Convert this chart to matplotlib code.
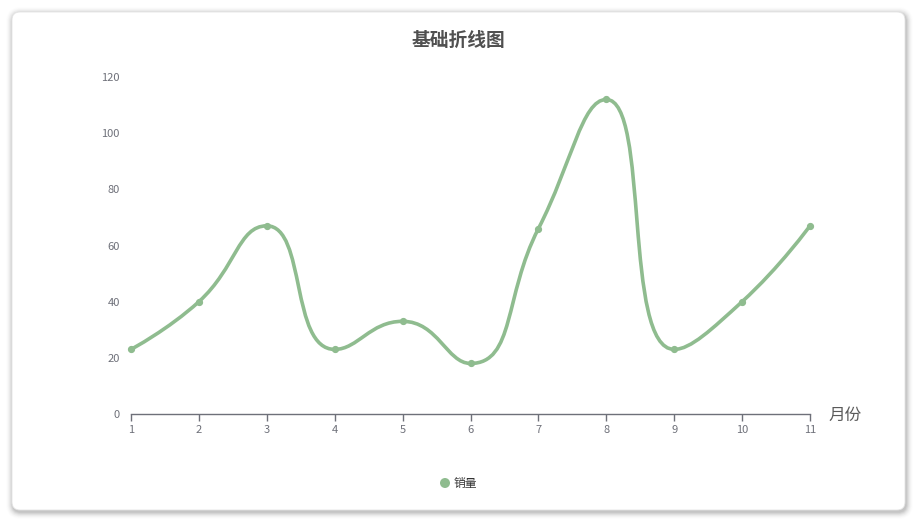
import matplotlib
matplotlib.use("Agg")
import matplotlib.pyplot as plt
from matplotlib.patches import FancyBboxPatch, Circle
from matplotlib.path import Path
from matplotlib.patches import PathPatch
import numpy as np

plt.rcParams['font.family'] = ['Noto Sans CJK SC', 'DejaVu Sans']

months = [1, 2, 3, 4, 5, 6, 7, 8, 9, 10, 11]
sales = [23, 40, 67, 23, 33, 18, 66, 112, 23, 40, 67]
y_ticks = [0, 20, 40, 60, 80, 100, 120]
title = "基础折线图"
x_name = "月份"
series_name = "销量"
color = "#8fbc8f"

W, H = 917, 523
fig = plt.figure(figsize=(W / 100, H / 100), dpi=100)
fig.patch.set_facecolor("white")

# card with shadow
bg = fig.add_axes([0, 0, 1, 1])
bg.set_xlim(0, W)
bg.set_ylim(H, 0)
bg.axis("off")
cx0, cy0, cx1, cy1 = 12, 12, 905, 510
for i in range(12, 0, -1):
    a = 0.04 * (1 - i / 13)
    bg.add_patch(FancyBboxPatch((cx0 - i * 0.6 + 1, cy0 - i * 0.6 + 2),
                                (cx1 - cx0) + i * 1.2, (cy1 - cy0) + i * 1.2,
                                boxstyle=f"round,pad=0,rounding_size={8 + i * 0.6}",
                                fc="black", ec="none", alpha=a))
bg.add_patch(FancyBboxPatch((cx0, cy0), cx1 - cx0, cy1 - cy0,
                            boxstyle="round,pad=0,rounding_size=8",
                            fc="white", ec="#e4e4e4", lw=0.6))

# title
bg.text(458, 40, title, ha="center", va="center", fontsize=13.5,
        fontweight="bold", color="#505050")

# main axes
x_left, x_right = 131, 810
y_bot, y_top = 414, 77
ax = fig.add_axes([x_left / W, (H - y_bot) / H, (x_right - x_left) / W, (y_bot - y_top) / H])
ax.set_facecolor("none")
ax.set_xlim(months[0], months[-1])
ax.set_ylim(0, 120)
ax.set_yticks(y_ticks)
ax.set_xticks(months)
ax.set_xticklabels([str(m) for m in months])
for s in ["top", "right", "left"]:
    ax.spines[s].set_visible(False)
ax.spines["bottom"].set_color("#6e7079")
ax.spines["bottom"].set_linewidth(1)
ax.tick_params(axis="x", colors="#6e7079", length=5, width=1, pad=3, labelsize=8, direction="out")
ax.tick_params(axis="y", colors="#6e7079", length=0, pad=8, labelsize=8)
for lab in ax.get_xticklabels() + ax.get_yticklabels():
    lab.set_color("#6e7079")

# ECharts-style smooth curve computed in pixel space
fig.canvas.draw()
pts = ax.transData.transform(np.column_stack([months, sales]))
smooth = 0.5
n = len(pts)
verts = [tuple(pts[0])]
codes = [Path.MOVETO]
cp0 = pts[0].copy()
for k in range(1, n):
    x, y = pts[k]
    px, py = pts[k - 1]
    if k == n - 1:
        cp1 = np.array([x, y])
        ncp0 = None
    else:
        nx, ny = pts[k + 1]
        vx, vy = nx - px, ny - py
        lp = np.hypot(x - px, y - py)
        ln = np.hypot(nx - x, ny - y)
        r = ln / (ln + lp)
        ncx = x + vx * smooth * r
        ncy = y + vy * smooth * r
        ncx = min(ncx, max(nx, x)); ncy = min(ncy, max(ny, y))
        ncx = max(ncx, min(nx, x)); ncy = max(ncy, min(ny, y))
        vx, vy = ncx - x, ncy - y
        c1x = x - vx * lp / ln
        c1y = y - vy * lp / ln
        c1x = min(c1x, max(px, x)); c1y = min(c1y, max(py, y))
        c1x = max(c1x, min(px, x)); c1y = max(c1y, min(py, y))
        vx, vy = x - c1x, y - c1y
        ncx = x + vx * ln / lp
        ncy = y + vy * ln / lp
        cp1 = np.array([c1x, c1y])
        ncp0 = np.array([ncx, ncy])
    verts += [tuple(cp0), tuple(cp1), (x, y)]
    codes += [Path.CURVE4] * 3
    if ncp0 is not None:
        cp0 = ncp0
inv = ax.transData.inverted()
verts_d = inv.transform(np.array(verts))
path = Path(verts_d, codes)
ax.add_patch(PathPatch(path, fc="none", ec=color, lw=2.6, capstyle="round",
                       joinstyle="round", clip_on=False, zorder=3))
ax.plot(months, sales, "o", color=color, ms=4.2, zorder=4, clip_on=False)

# axis name
bg.text(828, 415, x_name, ha="left", va="center", fontsize=12, color="#5a5a5a")

# legend
bg.add_patch(Circle((445, 483), 5, fc=color, ec="none"))
bg.text(454, 483, series_name, ha="left", va="center", fontsize=8.5, color="#333333")

fig.savefig("out.png", dpi=100)
